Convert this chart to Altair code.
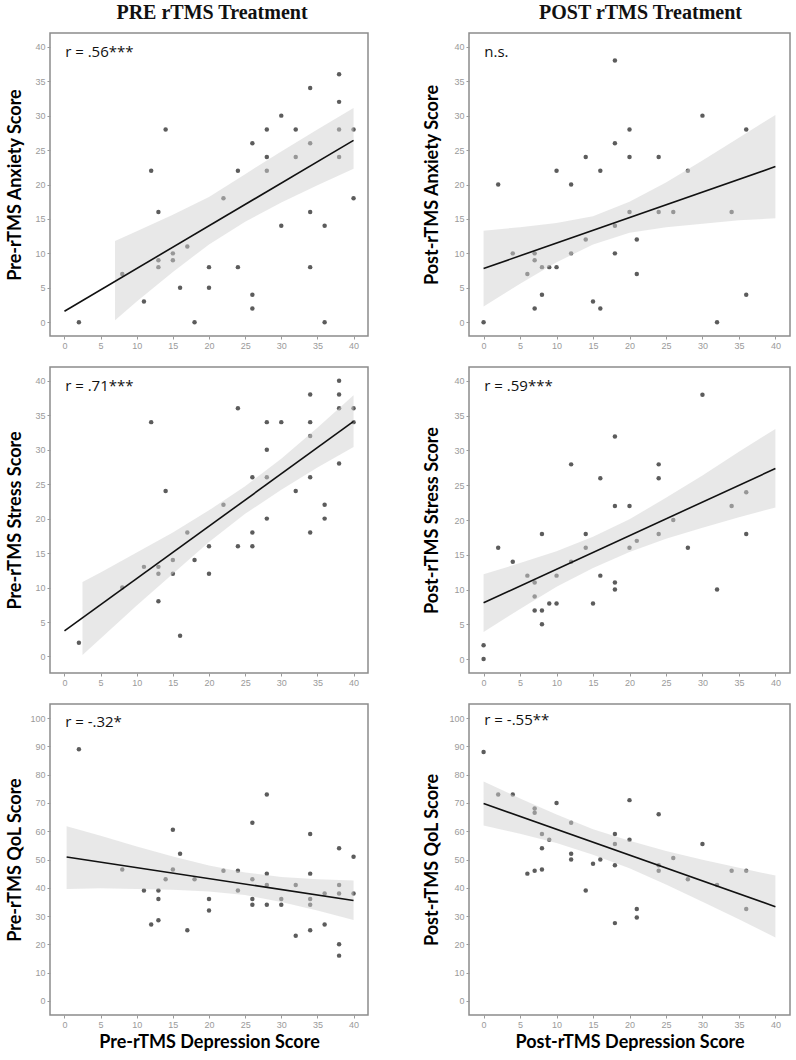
import altair as alt
import pandas as pd

# ---------------- data ----------------
# Panel 1: Pre-rTMS Anxiety vs Pre-rTMS Depression
p1_x = [2, 8, 11, 12, 13, 13, 13, 14, 15, 15, 16, 17, 18, 20, 20, 22, 24, 24, 26, 26,
        26, 28, 28, 28, 30, 30, 32, 32, 34, 34, 34, 34, 36, 36, 38, 38, 38, 38, 40, 40]
p1_y = [0, 7, 3, 22, 16, 9, 8, 28, 10, 9, 5, 11, 0, 8, 5, 18, 22, 8, 26, 4,
        2, 28, 24, 22, 30, 14, 28, 24, 34, 26, 16, 8, 14, 0, 36, 32, 28, 24, 28, 18]
p1_line_x = [0, 40]
p1_line_y = [1.6, 26.4]
p1_band_x = [7, 10, 15, 20, 25, 30, 35, 40]
p1_band_hi = [11.8, 13.2, 15.6, 18.2, 21.5, 24.8, 28.0, 31.1]
p1_band_lo = [0.3, 3.0, 7.3, 11.3, 14.6, 17.4, 19.9, 22.3]

# Panel 2: Post-rTMS Anxiety vs Post-rTMS Depression
p2_x = [0, 2, 4, 6, 7, 7, 7, 8, 8, 9, 10, 10, 12, 12, 14, 14, 15, 16, 16, 18,
        18, 18, 18, 20, 20, 20, 21, 21, 24, 24, 26, 28, 30, 32, 34, 36, 36]
p2_y = [0, 20, 10, 7, 10, 9, 2, 8, 4, 8, 22, 8, 20, 10, 24, 12, 3, 22, 2, 38,
        26, 14, 10, 28, 24, 16, 12, 7, 24, 16, 16, 22, 30, 0, 16, 28, 4]
p2_line_x = [0, 40]
p2_line_y = [7.8, 22.6]
p2_band_x = [0, 5, 10, 15, 20, 25, 30, 35, 40]
p2_band_hi = [13.3, 13.8, 14.4, 15.4, 17.5, 20.3, 23.5, 26.8, 30.1]
p2_band_lo = [2.3, 5.6, 8.7, 11.3, 13.0, 13.8, 14.3, 14.8, 15.1]

# Panel 3: Pre-rTMS Stress vs Pre-rTMS Depression
p3_x = [2, 8, 11, 12, 13, 13, 13, 14, 15, 15, 16, 17, 18, 20, 20, 22, 24, 24, 26, 26,
        26, 28, 28, 28, 28, 30, 32, 34, 34, 34, 34, 34, 36, 36, 38, 38, 38, 38, 40, 40]
p3_y = [2, 10, 13, 34, 13, 12, 8, 24, 14, 12, 3, 18, 14, 16, 12, 22, 36, 16, 26, 18,
        16, 34, 30, 26, 20, 34, 24, 38, 34, 32, 26, 18, 22, 20, 40, 38, 36, 28, 36, 34]
p3_line_x = [0, 40]
p3_line_y = [3.7, 34.1]
p3_band_x = [2.5, 5, 10, 15, 20, 25, 30, 35, 40]
p3_band_hi = [10.8, 12.2, 15.1, 18.0, 21.2, 24.7, 28.7, 33.2, 37.9]
p3_band_lo = [0.2, 2.6, 7.4, 12.0, 16.6, 20.7, 24.2, 27.4, 30.4]

# Panel 4: Post-rTMS Stress vs Post-rTMS Depression
p4_x = [0, 0, 2, 4, 6, 7, 7, 7, 8, 8, 8, 9, 10, 10, 12, 12, 14, 14, 15, 16,
        16, 18, 18, 18, 18, 20, 20, 21, 24, 24, 24, 26, 28, 30, 32, 34, 36, 36]
p4_y = [0, 2, 16, 14, 12, 11, 9, 7, 18, 7, 5, 8, 12, 8, 28, 14, 18, 16, 8, 26,
        12, 32, 22, 11, 10, 22, 16, 17, 28, 26, 18, 20, 16, 38, 10, 22, 24, 18]
p4_line_x = [0, 40]
p4_line_y = [8.1, 27.4]
p4_band_x = [0, 5, 10, 15, 20, 25, 30, 35, 40]
p4_band_hi = [12.2, 13.8, 15.5, 17.6, 20.1, 23.2, 26.4, 29.8, 33.1]
p4_band_lo = [3.9, 7.2, 10.4, 13.1, 15.4, 17.3, 18.9, 20.4, 21.8]

# Panel 5: Pre-rTMS QoL vs Pre-rTMS Depression
p5_x = [2, 8, 11, 12, 13, 13, 13, 14, 15, 15, 16, 17, 18, 20, 20, 22, 24, 24, 26, 26,
        26, 26, 28, 28, 28, 28, 30, 30, 32, 32, 34, 34, 34, 34, 34, 36, 36, 38, 38, 38,
        38, 38, 40, 40]
p5_y = [89, 46.5, 39, 27, 39, 36, 28.5, 43, 60.5, 46.5, 52, 25, 43, 36, 32, 46, 46, 39, 63, 43,
        36, 34, 73, 45, 41, 34, 36, 34, 41, 23, 59, 45, 36, 34, 25, 38, 27, 54, 41, 38,
        20, 16, 51, 38]
p5_line_x = [0.3, 40]
p5_line_y = [50.9, 35.5]
p5_band_x = [0.3, 5, 10, 15, 20, 25, 30, 35, 40]
p5_band_hi = [61.8, 58.4, 54.6, 51.1, 47.9, 45.4, 43.8, 43.0, 42.6]
p5_band_lo = [39.6, 39.8, 39.6, 39.3, 38.7, 37.4, 35.0, 32.0, 28.6]

# Panel 6: Post-rTMS QoL vs Post-rTMS Depression
p6_x = [0, 2, 4, 6, 7, 7, 7, 8, 8, 8, 9, 10, 12, 12, 12, 14, 15, 16, 18, 18,
        18, 18, 20, 20, 21, 21, 24, 24, 24, 26, 28, 30, 32, 34, 36, 36]
p6_y = [88, 73, 73, 45, 68, 66.5, 46, 59, 54, 46.5, 57, 70, 63, 52, 50, 39, 48.5, 50, 59, 55.5,
        48, 27.5, 71, 57, 32.5, 29.5, 66, 48, 46, 50.5, 43, 55.5, 41, 46, 46, 32.5]
p6_line_x = [0, 40]
p6_line_y = [69.8, 33.3]
p6_band_x = [0, 5, 10, 15, 20, 25, 30, 35, 40]
p6_band_hi = [77.6, 71.6, 65.9, 60.7, 56.6, 53.0, 49.9, 47.1, 44.3]
p6_band_lo = [62.0, 59.1, 55.8, 51.7, 46.9, 41.2, 35.1, 28.9, 22.4]

x_ticks = [0, 5, 10, 15, 20, 25, 30, 35, 40]
y_ticks_40 = [0, 5, 10, 15, 20, 25, 30, 35, 40]
y_ticks_100 = [0, 10, 20, 30, 40, 50, 60, 70, 80, 90, 100]

labels = ["r = .56***", "n.s.", "r = .71***", "r = .59***", "r = -.32*", "r = -.55**"]
y_titles = ["Pre-rTMS Anxiety Score", "Post-rTMS Anxiety Score",
            "Pre-rTMS Stress Score", "Post-rTMS Stress Score",
            "Pre-rTMS QoL Score", "Post-rTMS QoL Score"]
x_titles = ["Pre-rTMS Depression Score", "Post-rTMS Depression Score"]
col_titles = ["PRE rTMS Treatment", "POST rTMS Treatment"]

LABEL_GRAY = "#9a9a9a"


def panel(px, py, lx, ly, bx, blo, bhi, label, label_y, ydom, yticks, ytitle,
          xtitle, w, h, ytp, title=None, title_dx=0):
    pts = pd.DataFrame({"x": px, "y": py})
    line = pd.DataFrame({"x": lx, "y": ly})
    band = pd.DataFrame({"x": bx, "lo": blo, "hi": bhi})
    txt = pd.DataFrame({"x": [0.1], "y": [label_y], "t": [label]})

    xs = alt.Scale(domain=[-2, 42], nice=False, zero=False)
    ys = alt.Scale(domain=ydom, nice=False, zero=False)
    xax = alt.Axis(values=x_ticks, title=xtitle, titlePadding=4, labelOverlap=False)
    yax = alt.Axis(values=yticks, title=ytitle, titlePadding=ytp, labelOverlap=False,
                   minExtent=15, maxExtent=15)
    X = lambda f: alt.X(f, scale=xs, axis=xax)
    Y = lambda f: alt.Y(f, scale=ys, axis=yax)

    points = alt.Chart(pts).mark_circle(size=20, color="#262626", opacity=0.75).encode(
        x=X("x:Q"), y=Y("y:Q"),
    )
    ribbon = alt.Chart(band).mark_area(color="#d2d2d2", opacity=0.5).encode(
        x=X("x:Q"), y=Y("lo:Q"), y2="hi:Q",
    )
    fit = alt.Chart(line).mark_line(color="#111111", strokeWidth=1.6).encode(
        x=X("x:Q"), y=Y("y:Q"),
    )
    note = alt.Chart(txt).mark_text(align="left", baseline="middle", font="Open Sans",
                                    fontSize=15, color="#111111").encode(
        x=X("x:Q"), y=Y("y:Q"), text="t:N",
    )
    props = dict(width=w, height=h)
    if title is not None:
        props["title"] = alt.TitleParams(title, font="Liberation Serif", fontSize=20,
                                         fontWeight="bold", color="#111111",
                                         anchor="middle", dx=title_dx, offset=10)
    return alt.layer(points, ribbon, fit, note).properties(**props)


WL, WR = 318, 321
H1, H2, H3 = 303, 306, 311

c1 = panel(p1_x, p1_y, p1_line_x, p1_line_y, p1_band_x, p1_band_lo, p1_band_hi,
           labels[0], 39.2, [-2, 42], y_ticks_40, y_titles[0], None, WL, H1, 11,
           title=col_titles[0], title_dx=3)
c2 = panel(p2_x, p2_y, p2_line_x, p2_line_y, p2_band_x, p2_band_lo, p2_band_hi,
           labels[1], 39.2, [-2, 42], y_ticks_40, y_titles[1], None, WR, H1, 13,
           title=col_titles[1], title_dx=11)
c3 = panel(p3_x, p3_y, p3_line_x, p3_line_y, p3_band_x, p3_band_lo, p3_band_hi,
           labels[2], 39.3, [-2.4, 42], y_ticks_40, y_titles[2], None, WL, H2, 11)
c4 = panel(p4_x, p4_y, p4_line_x, p4_line_y, p4_band_x, p4_band_lo, p4_band_hi,
           labels[3], 39.3, [-2, 42], y_ticks_40, y_titles[3], None, WR, H2, 13)
c5 = panel(p5_x, p5_y, p5_line_x, p5_line_y, p5_band_x, p5_band_lo, p5_band_hi,
           labels[4], 98.5, [-5, 105], y_ticks_100, y_titles[4], x_titles[0], WL, H3, 11)
c6 = panel(p6_x, p6_y, p6_line_x, p6_line_y, p6_band_x, p6_band_lo, p6_band_hi,
           labels[5], 99.5, [-5, 105], y_ticks_100, y_titles[5], x_titles[1], WR, H3, 13)

row1 = alt.hconcat(c1, c2, spacing=53)
row2 = alt.hconcat(c3, c4, spacing=53)
row3 = alt.hconcat(c5, c6, spacing=53)

chart = alt.vconcat(row1, row2, row3, spacing=15).properties(
    padding={"left": 5, "top": 2, "right": 2, "bottom": 2},
    background="white",
).configure_view(
    stroke="#8c8c8c", strokeWidth=1.5,
).configure_axis(
    grid=False, domain=False,
    labelFont="Liberation Sans", labelFontSize=9, labelColor=LABEL_GRAY,
    labelPadding=2,
    tickColor=LABEL_GRAY, tickSize=3, tickWidth=1,
    titleFont="Lato", titleFontSize=18, titleFontWeight="bold", titleColor="#000000",
)

chart.save("out.html", embed_options={"renderer": "svg", "actions": False})
